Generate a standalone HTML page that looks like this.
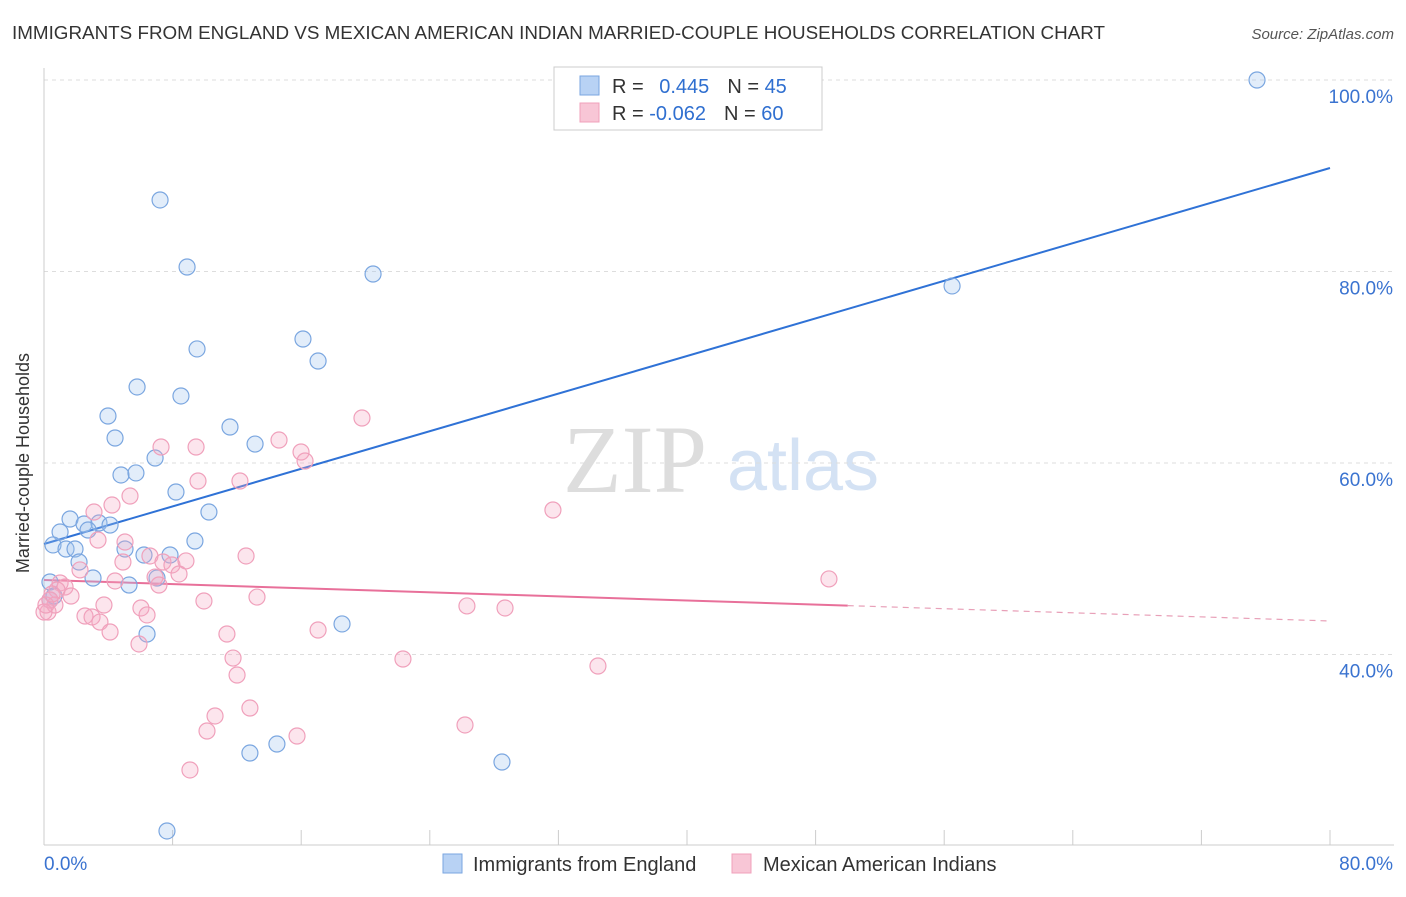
<!DOCTYPE html>
<html><head><meta charset="utf-8"><style>
body{margin:0;background:#fff;font-family:"Liberation Sans",sans-serif}
svg text{font-family:"Liberation Sans",sans-serif}
</style></head><body>
<svg id="c" width="1406" height="892" viewBox="0 0 1406 892">
<text x="12" y="39" font-size="18" fill="#333" textLength="1093" lengthAdjust="spacingAndGlyphs">IMMIGRANTS FROM ENGLAND VS MEXICAN AMERICAN INDIAN MARRIED-COUPLE HOUSEHOLDS CORRELATION CHART</text>
<text x="1394" y="39" font-size="15" fill="#555" text-anchor="end" font-style="italic">Source: ZipAtlas.com</text>
<g>
<text x="635" y="492" font-size="96" fill="#ddd" text-anchor="middle" font-family="Liberation Serif" style="font-family:'Liberation Serif',serif">ZIP</text>
<text x="803" y="490" font-size="72" fill="#d4e2f4" text-anchor="middle">atlas</text>
</g>
<g id="grid"></g><g id="axes"></g><g id="lines"></g><g id="pts"></g>
<text x="24" y="458" font-size="18" fill="#333" text-anchor="middle" transform="rotate(-90 29 458)">Married-couple Households</text>
<g>
<rect x="554" y="67" width="268" height="63" fill="#fff" stroke="#ccc"/>
<rect x="580" y="76" width="19" height="19" fill="#b8d2f4" stroke="#7aa6e0"/>
<rect x="580" y="103" width="19" height="19" fill="#f8c6d6" stroke="#f0a0bb"/>
<text x="612" y="93" font-size="20" fill="#333">R = <tspan fill="#2f6fd0" dx="10">0.445</tspan><tspan dx="18" fill="#333">N = </tspan><tspan fill="#2f6fd0">45</tspan></text>
<text x="612" y="120" font-size="20" fill="#333">R = <tspan fill="#2f6fd0">-0.062</tspan><tspan dx="18" fill="#333">N = </tspan><tspan fill="#2f6fd0">60</tspan></text>
</g>
<g>
<rect x="443" y="854" width="19" height="19" fill="#b8d2f4" stroke="#7aa6e0"/>
<text x="473" y="871" font-size="20" fill="#333">Immigrants from England</text>
<rect x="732" y="854" width="19" height="19" fill="#f8c6d6" stroke="#f0a0bb"/>
<text x="763" y="871" font-size="20" fill="#333">Mexican American Indians</text>
</g>
</svg>
<script>
const blueX=[7.22,8.90,20.47,56.49,75.46,9.52,16.11,17.05,5.79,8.52,3.98,4.42,11.57,13.13,6.91,4.79,5.72,8.21,10.26,1.62,2.49,3.42,4.11,1.0,2.74,0.56,1.37,1.93,5.04,6.22,7.84,9.39,2.18,3.05,5.29,7.03,0.37,0.37,0.62,6.41,18.54,12.81,14.49,28.49,7.65];
const blueY=[87.47,80.47,79.74,78.49,100,71.91,72.95,70.65,67.94,67.0,64.91,62.61,63.76,61.98,60.52,58.75,58.96,56.97,54.88,54.15,53.63,53.73,53.52,52.79,53.0,51.44,51.02,51.02,51.02,50.39,50.39,51.85,49.66,47.99,47.26,47.99,47.57,45.69,46.11,42.14,43.19,29.71,30.65,28.77,21.57];
const pinkX=[19.78,7.28,9.46,14.62,15.99,16.24,9.58,12.19,5.35,4.23,3.11,3.36,5.04,12.57,31.66,48.83,4.91,6.59,7.40,7.96,8.83,4.42,6.91,7.15,8.40,2.24,1.0,1.31,1.68,0.81,0.37,0.25,0.68,3.73,6.03,6.41,2.55,2.99,3.48,9.95,13.25,26.31,28.68,4.11,11.38,17.05,5.91,11.76,12.01,22.33,34.46,10.64,12.81,10.14,15.74,26.19,9.08,0,0.12,0.5];
const pinkY=[64.7,61.67,61.67,62.4,61.15,60.21,58.12,58.12,56.55,55.61,54.88,51.96,51.75,50.29,55.09,47.89,49.66,50.29,49.66,49.35,49.77,47.68,48.09,47.26,48.41,48.83,47.47,47.05,46.11,46.74,45.69,44.44,45.17,45.17,44.86,44.13,44.02,43.92,43.39,45.59,46.0,45.07,44.86,42.35,42.14,42.56,41.1,39.63,37.86,39.53,38.8,33.58,34.41,32.01,31.49,32.64,27.94,44.44,45.17,46.32];
const blueTrend=[51.54,90.81]; // y at x=0 and x=80
const pinkTrend=[47.78,43.5];
const pinkSolidEnd=50;
const yTicks=[100,80,60,40];
const yTickLabels=["100.0%","80.0%","60.0%","40.0%"];
const xTickLabels=["0.0%","80.0%"];
const NS="http://www.w3.org/2000/svg";
const X=v=>44+v/80*1286, Y=v=>80+(100-v)*9.575;
function mk(t,a,p){const e=document.createElementNS(NS,t);for(const k in a)e.setAttribute(k,a[k]);document.getElementById(p).appendChild(e);return e;}
yTicks.forEach((t,i)=>{
 const g=mk('line',{x1:44,x2:1394,y1:Y(t),y2:Y(t),stroke:'#ddd','stroke-dasharray':'4,4'},'grid');
 
 
 const l=mk('text',{x:1393,y:Y(t)+23,'font-size':19,fill:'#3a73d0','text-anchor':'end'},'axes');
 l.textContent=yTickLabels[i];
 
 
});
const ax=mk('line',{x1:44,x2:44,y1:68,y2:845,stroke:'#ccc'},'axes');


const bx=mk('line',{x1:44,x2:1394,y1:845,y2:845,stroke:'#ccc'},'axes');


for(let i=0;i<=10;i++){const t=mk('line',{x1:X(i*8),x2:X(i*8),y1:830,y2:845,stroke:'#ccc'},'axes');
 
 }
[[0,'start',44],[80,'end',1393]].forEach((d,i)=>{const l=mk('text',{x:d[2],y:870,'font-size':19,fill:'#3a73d0','text-anchor':d[1]},'axes');l.textContent=xTickLabels[i];
 
 });
function dot(x,y,f,s){const c=mk('circle',{cx:X(x),cy:Y(y),r:8,fill:f,stroke:s,'stroke-width':1.2},'pts');return c;}
blueX.forEach((x,i)=>{const c=dot(x,blueY[i],'rgba(160,196,240,0.3)','#7aa6e0');
 
 });
pinkX.forEach((x,i)=>{const c=dot(x,pinkY[i],'rgba(245,170,195,0.3)','#f0a0bb');
 
 });
const bl=mk('line',{x1:X(0),y1:Y(blueTrend[0]),x2:X(80),y2:Y(blueTrend[1]),stroke:'#2f72d6','stroke-width':2},'lines');


const pm=pinkTrend[0]+(pinkTrend[1]-pinkTrend[0])*pinkSolidEnd/80;
const pl=mk('line',{x1:X(0),y1:Y(pinkTrend[0]),x2:X(pinkSolidEnd),y2:Y(pm),stroke:'#e8709a','stroke-width':2},'lines');


const pd=mk('line',{x1:X(pinkSolidEnd),y1:Y(pm),x2:X(80),y2:Y(pinkTrend[1]),stroke:'#e8a0b8','stroke-width':1.2,'stroke-dasharray':'6,5'},'lines');


</script>
</body></html>
